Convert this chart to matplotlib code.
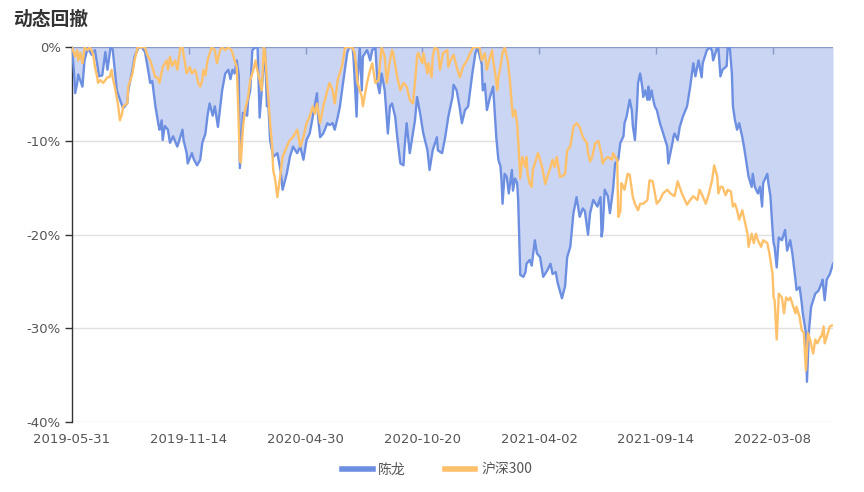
import matplotlib.pyplot as plt
from matplotlib.lines import Line2D

plt.rcParams['font.family'] = ['Noto Sans CJK SC', 'DejaVu Sans']

# 交易日序号 (0 = 2019-05-31) 与回撤值 (%)
tick_days = [0, 112, 224, 336, 448, 560, 672]
tick_labels = ['2019-05-31', '2019-11-14', '2020-04-30', '2020-10-20',
               '2021-04-02', '2021-09-14', '2022-03-08']

chenlong_day = [0, 2, 3, 5, 6, 10, 12, 15, 19, 22, 26, 29, 32, 34, 37, 39, 43, 46, 49, 53,
                54, 58, 60, 64, 67, 70, 73, 75, 77, 80, 83, 84, 86, 87, 89, 92, 94, 97, 101, 103,
                106, 107, 110, 111, 115, 117, 120, 123, 125, 128, 130, 132, 135, 137, 140, 144, 147, 150, 152, 154,
                156, 158, 160, 161, 164, 168, 169, 171, 173, 176, 178, 180, 182, 185, 187, 188, 190, 193, 197, 200,
                202, 206, 209, 212, 216, 219, 222, 225, 228, 231, 235, 236, 238, 241, 245, 247, 250, 252, 255, 257,
                260, 264, 266, 269, 270, 273, 274, 276, 278, 279, 283, 284, 286, 288, 291, 293, 295, 297, 300, 303,
                305, 307, 310, 312, 315, 318, 319, 321, 324, 327, 329, 331, 334, 337, 341, 343, 346, 350, 351, 355,
                358, 361, 365, 366, 369, 372, 374, 377, 380, 384, 387, 389, 393, 394, 396, 398, 401, 404, 406, 407,
                409, 411, 412, 413, 415, 417, 419, 422, 423, 425, 427, 428, 429, 430, 433, 435, 436, 439, 441, 444,
                446, 449, 452, 456, 459, 461, 464, 466, 470, 473, 475, 478, 481, 484, 487, 490, 492, 495, 497, 500,
                504, 507, 508, 509, 511, 514, 516, 519, 521, 524, 526, 529, 530, 532, 535, 537, 538, 540, 542, 543,
                545, 547, 548, 550, 552, 553, 554, 556, 557, 559, 561, 564, 566, 569, 571, 572, 576, 577, 578, 581,
                583, 586, 590, 593, 596, 598, 601, 604, 605, 609, 612, 614, 615, 617, 619, 620, 622, 624, 628, 629,
                631, 633, 634, 636, 638, 640, 643, 644, 646, 648, 649, 652, 653, 655, 658, 660, 662, 663, 667, 668,
                670, 672, 673, 674, 676, 678, 681, 684, 686, 689, 691, 694, 695, 698, 700, 701, 704, 705, 707, 709,
                711, 713, 716, 719, 720, 722, 724, 727, 730]
chenlong = [0, -2.8, -4.9, -3.8, -2.9, -4.2, -1.4, -0.1, -0.8, -0.3, -3.1, -3.0, -0.5, -2.4, 0, -0.2, -4.6, -5.6, -6.5, -6.0,
            -4.6, -2.4, -1.0, 0, 0, -0.5, -2.4, -3.8, -3.6, -6.3, -8.3, -8.8, -7.8, -9.9, -8.4, -8.8, -10.2, -9.5, -10.6, -9.9,
            -8.8, -9.9, -11.3, -12.4, -11.3, -12.0, -12.6, -12.0, -10.2, -9.2, -7.3, -6.0, -7.3, -6.3, -8.5, -4.6, -2.8, -2.4, -3.4, -2.4,
            -2.8, -1.4, -3.0, -12.9, -7.0, -7.3, -5.6, -4.6, -0.3, 0, 0, -7.5, -4.6, 0, -6.3, -5.3, -9.9, -11.7, -11.3, -13.1,
            -15.2, -13.5, -11.7, -10.6, -11.3, -10.6, -12.0, -9.9, -9.2, -7.4, -4.9, -7.4, -9.6, -9.2, -8.1, -8.3, -8.1, -8.8, -7.4, -6.3,
            -3.8, -0.6, 0, 0, -1.0, -7.4, -3.5, 0, -4.6, -1.0, -0.3, -0.6, -1.4, -0.3, 0, -3.8, -4.9, -2.8, -4.6, -9.2,
            -6.3, -6.0, -7.4, -9.6, -12.4, -12.6, -10.7, -8.1, -11.3, -9.2, -7.8, -5.3, -7.1, -9.2, -11.0, -13.1, -11.0, -9.6, -11.0, -11.3,
            -9.6, -7.4, -5.3, -4.0, -4.6, -6.5, -8.1, -6.7, -6.3, -2.8, -0.6, 0, -1.8, -4.6, -3.9, -6.7, -5.3, -4.2, -7.8, -9.6,
            -12.0, -12.7, -14.2, -16.7, -13.5, -13.8, -15.6, -13.1, -15.3, -14.0, -14.5, -16.3, -20.5, -24.3, -24.5, -24.0, -23.1, -22.7, -23.3, -20.6,
            -22.0, -22.4, -24.5, -23.8, -23.1, -24.2, -24.0, -25.2, -26.8, -25.5, -22.4, -21.3, -17.7, -16.0, -18.1, -17.2, -17.5, -20.0, -17.7, -16.3,
            -17.0, -16.0, -20.2, -19.5, -15.2, -15.9, -17.7, -15.2, -12.4, -12.0, -10.2, -9.5, -8.1, -7.4, -5.6, -6.7, -8.4, -9.9, -6.3, -3.8,
            -2.8, -4.2, -5.3, -4.6, -5.6, -4.2, -5.6, -4.6, -5.3, -6.3, -6.7, -8.1, -8.8, -9.9, -10.6, -12.4, -10.2, -9.5, -9.2, -9.9,
            -8.5, -7.4, -6.3, -4.2, -1.7, -3.1, -1.4, -3.2, -1.7, -0.3, 0, -0.4, -1.4, -0.7, 0, 0, -3.1, -2.4, -2.0, 0,
            0, -2.8, -6.3, -7.8, -8.8, -8.1, -9.6, -10.2, -11.6, -13.1, -13.8, -14.9, -13.5, -14.9, -15.6, -14.9, -17.0, -14.5, -13.5, -14.5,
            -15.9, -19.5, -20.9, -21.3, -23.5, -20.3, -20.6, -19.5, -21.7, -20.6, -22.0, -24.8, -25.9, -25.6, -27.3, -28.4, -30.5, -35.7, -30.2, -27.7,
            -27.0, -26.3, -26.0, -25.2, -24.8, -27.0, -24.8, -24.2, -23.1]

hs300_day = [0, 3, 5, 6, 8, 10, 11, 12, 15, 17, 20, 22, 24, 25, 27, 30, 34, 36, 38, 39,
             41, 44, 46, 48, 49, 53, 54, 58, 60, 63, 65, 70, 72, 75, 77, 80, 82, 84, 87, 91,
             92, 94, 96, 99, 101, 104, 106, 107, 108, 110, 113, 115, 118, 120, 121, 123, 125, 126, 128, 130,
             134, 137, 139, 142, 144, 147, 150, 153, 156, 158, 159, 161, 162, 164, 166, 169, 171, 174, 176, 177,
             180, 182, 184, 185, 187, 188, 190, 192, 193, 195, 197, 200, 202, 206, 209, 212, 216, 219, 222, 225,
             228, 231, 233, 235, 238, 241, 245, 247, 250, 252, 255, 259, 262, 265, 269, 271, 273, 274, 278, 279,
             283, 286, 288, 291, 294, 297, 300, 302, 305, 307, 308, 312, 315, 318, 321, 324, 327, 329, 331, 332,
             336, 337, 341, 342, 345, 346, 348, 351, 353, 356, 360, 361, 363, 366, 369, 372, 375, 379, 382, 385,
             389, 391, 393, 396, 398, 399, 403, 404, 406, 408, 409, 411, 413, 415, 418, 420, 422, 423, 425, 427,
             428, 430, 432, 435, 436, 437, 439, 441, 442, 444, 447, 449, 451, 454, 456, 459, 461, 463, 465, 466,
             468, 470, 473, 475, 478, 481, 484, 487, 490, 494, 495, 497, 499, 502, 505, 508, 509, 511, 514, 518,
             519, 521, 523, 524, 526, 527, 529, 530, 533, 535, 538, 540, 543, 545, 548, 552, 554, 557, 561, 564,
             567, 571, 574, 578, 581, 585, 590, 593, 596, 600, 602, 605, 608, 611, 614, 616, 619, 620, 622, 624,
             627, 629, 632, 634, 636, 638, 640, 643, 645, 648, 649, 652, 654, 656, 658, 661, 663, 667, 669, 672,
             673, 674, 676, 678, 681, 683, 685, 687, 689, 692, 694, 695, 698, 700, 702, 704, 706, 708, 711, 713,
             715, 718, 719, 721, 722, 724, 727, 729]
hs300 = [0, -1.0, -0.3, -1.4, -0.6, -1.7, -1.0, 0, -0.3, 0, -0.6, -2.1, -3.1, -3.8, -3.5, -3.8, -3.2, -3.2, -2.4, -3.2,
         -4.2, -6.0, -7.8, -7.1, -6.3, -6.0, -4.2, -2.8, -1.4, 0, 0, 0, -0.8, -1.4, -2.1, -3.2, -3.2, -3.8, -2.1, -1.4,
         -2.4, -1.0, -2.0, -1.4, -2.4, 0, 0, -0.8, -1.4, -2.8, -2.1, -2.8, -2.4, -3.2, -3.8, -4.2, -3.5, -2.4, -3.0, -1.4,
         0, -0.3, -1.7, -0.3, 0, -0.3, 0, -0.3, -1.4, -2.1, -5.0, -12.0, -12.3, -8.5, -6.7, -5.3, -3.5, -2.4, -1.4, -2.1,
         -3.5, -4.6, 0, -0.3, -3.5, -4.9, -8.1, -10.6, -13.1, -14.2, -16.0, -13.5, -11.7, -10.6, -9.9, -9.6, -8.8, -10.6, -9.6, -8.1,
         -7.4, -6.3, -7.1, -6.0, -8.1, -6.3, -4.6, -3.8, -4.6, -6.0, -3.4, -2.0, 0, 0, 0, -0.6, -2.4, -3.8, -5.3, -6.3,
         -3.8, -2.4, -1.7, -3.8, -3.5, 0, -1.0, -3.8, -1.4, -0.3, -0.6, -3.2, -4.6, -3.8, -4.2, -5.6, -6.0, -3.8, -1.0, -0.6,
         -1.7, -0.6, -2.8, -1.7, -3.2, -1.0, 0, -0.3, -2.4, -0.6, -0.3, -2.1, -1.4, -0.8, -2.1, -3.2, -2.1, -1.4, -0.6, 0,
         0, 0, -1.4, -0.6, -2.4, -1.8, -0.3, -1.4, -2.8, -4.6, -3.2, -2.1, -0.6, 0, -1.4, -3.5, -6.3, -7.4, -6.7, -8.1,
         -9.9, -14.0, -11.7, -12.8, -11.7, -13.5, -14.5, -14.9, -13.1, -12.4, -11.3, -12.0, -12.8, -14.6, -13.8, -12.8, -12.0, -12.8, -11.7, -12.4,
         -13.8, -13.8, -13.5, -11.0, -10.6, -8.5, -8.1, -8.5, -9.6, -10.2, -11.3, -12.2, -11.7, -10.2, -10.0, -11.5, -12.4, -12.0, -11.7, -12.0,
         -11.3, -11.7, -12.0, -18.1, -17.5, -14.5, -14.9, -15.2, -13.5, -13.6, -16.0, -16.7, -17.4, -16.7, -16.7, -16.3, -14.2, -14.3, -16.7, -16.3,
         -15.6, -15.2, -15.6, -15.9, -14.3, -15.6, -16.8, -16.3, -15.9, -16.3, -15.2, -15.9, -16.7, -15.6, -14.2, -12.6, -13.8, -15.6, -14.9, -14.9,
         -15.8, -15.2, -15.4, -17.0, -16.7, -17.4, -18.4, -17.4, -18.4, -19.9, -21.3, -19.9, -20.9, -19.9, -20.6, -21.3, -20.6, -20.9, -22.0, -24.2,
         -26.7, -27.0, -31.2, -26.3, -26.7, -28.4, -26.7, -27.0, -26.7, -27.7, -28.4, -27.7, -28.8, -30.2, -30.5, -34.5, -30.5, -31.2, -32.7, -31.2,
         -31.6, -30.9, -30.9, -29.8, -31.6, -30.9, -29.8, -29.7]

blue = '#6D8FE2'
fill = '#CAD5F3'
orange = '#FFC06A'
grid = '#E0E0E0'

fig = plt.figure(figsize=(8.64, 4.92), dpi=100)
ax = fig.add_axes([72 / 864, 1 - 422 / 492, 761 / 864, (422 - 47.3) / 492])

ax.fill_between(chenlong_day, chenlong, 0, color=fill, lw=0, zorder=1)
ax.plot(chenlong_day, chenlong, color=blue, lw=1.7, zorder=3)
ax.plot(hs300_day, hs300, color=orange, lw=1.7, zorder=4)

ax.set_xlim(0, 730)
ax.set_ylim(-40, 0)
ax.set_yticks([-40, -30, -20, -10, 0])
ax.set_yticklabels([f'{v}%' for v in [-40, -30, -20, -10, 0]])
ax.set_xticks(tick_days)
ax.set_xticklabels(tick_labels)

for v in [-40, -30, -20, -10]:
    ax.axhline(v, color=grid, lw=1, zorder=0)
ax.axhline(0, color='#8A98C8', lw=1, zorder=2)

for s in ['top', 'right', 'bottom']:
    ax.spines[s].set_visible(False)
ax.spines['left'].set_color('#333333')
ax.spines['left'].set_linewidth(1)

ax.tick_params(axis='y', length=5, width=1, color='#333333', labelsize=9.5,
               labelcolor='#555555', pad=3)
ax.tick_params(axis='x', bottom=False, top=True, labelbottom=True, labeltop=False,
               direction='in', length=5, width=1, color='#8A98C8',
               labelsize=9.5, labelcolor='#555555', pad=8)
for lab in ax.get_xticklabels() + ax.get_yticklabels():
    lab.set_family('DejaVu Sans')

fig.text(13 / 864, 1 - 19 / 492, '动态回撤', fontsize=13.5, fontweight='bold',
         color='#333333', va='center', ha='left')

handles = [Line2D([0], [0], color=blue, lw=4), Line2D([0], [0], color=orange, lw=4)]
fig.legend(handles, ['陈龙', '沪深300'], loc='center', bbox_to_anchor=(437 / 864, 1 - 470 / 492),
           ncol=2, frameon=False, fontsize=10, handlelength=2.2, columnspacing=2.8,
           handletextpad=0.4, labelcolor='#555555')

fig.savefig('out.png', dpi=100)
